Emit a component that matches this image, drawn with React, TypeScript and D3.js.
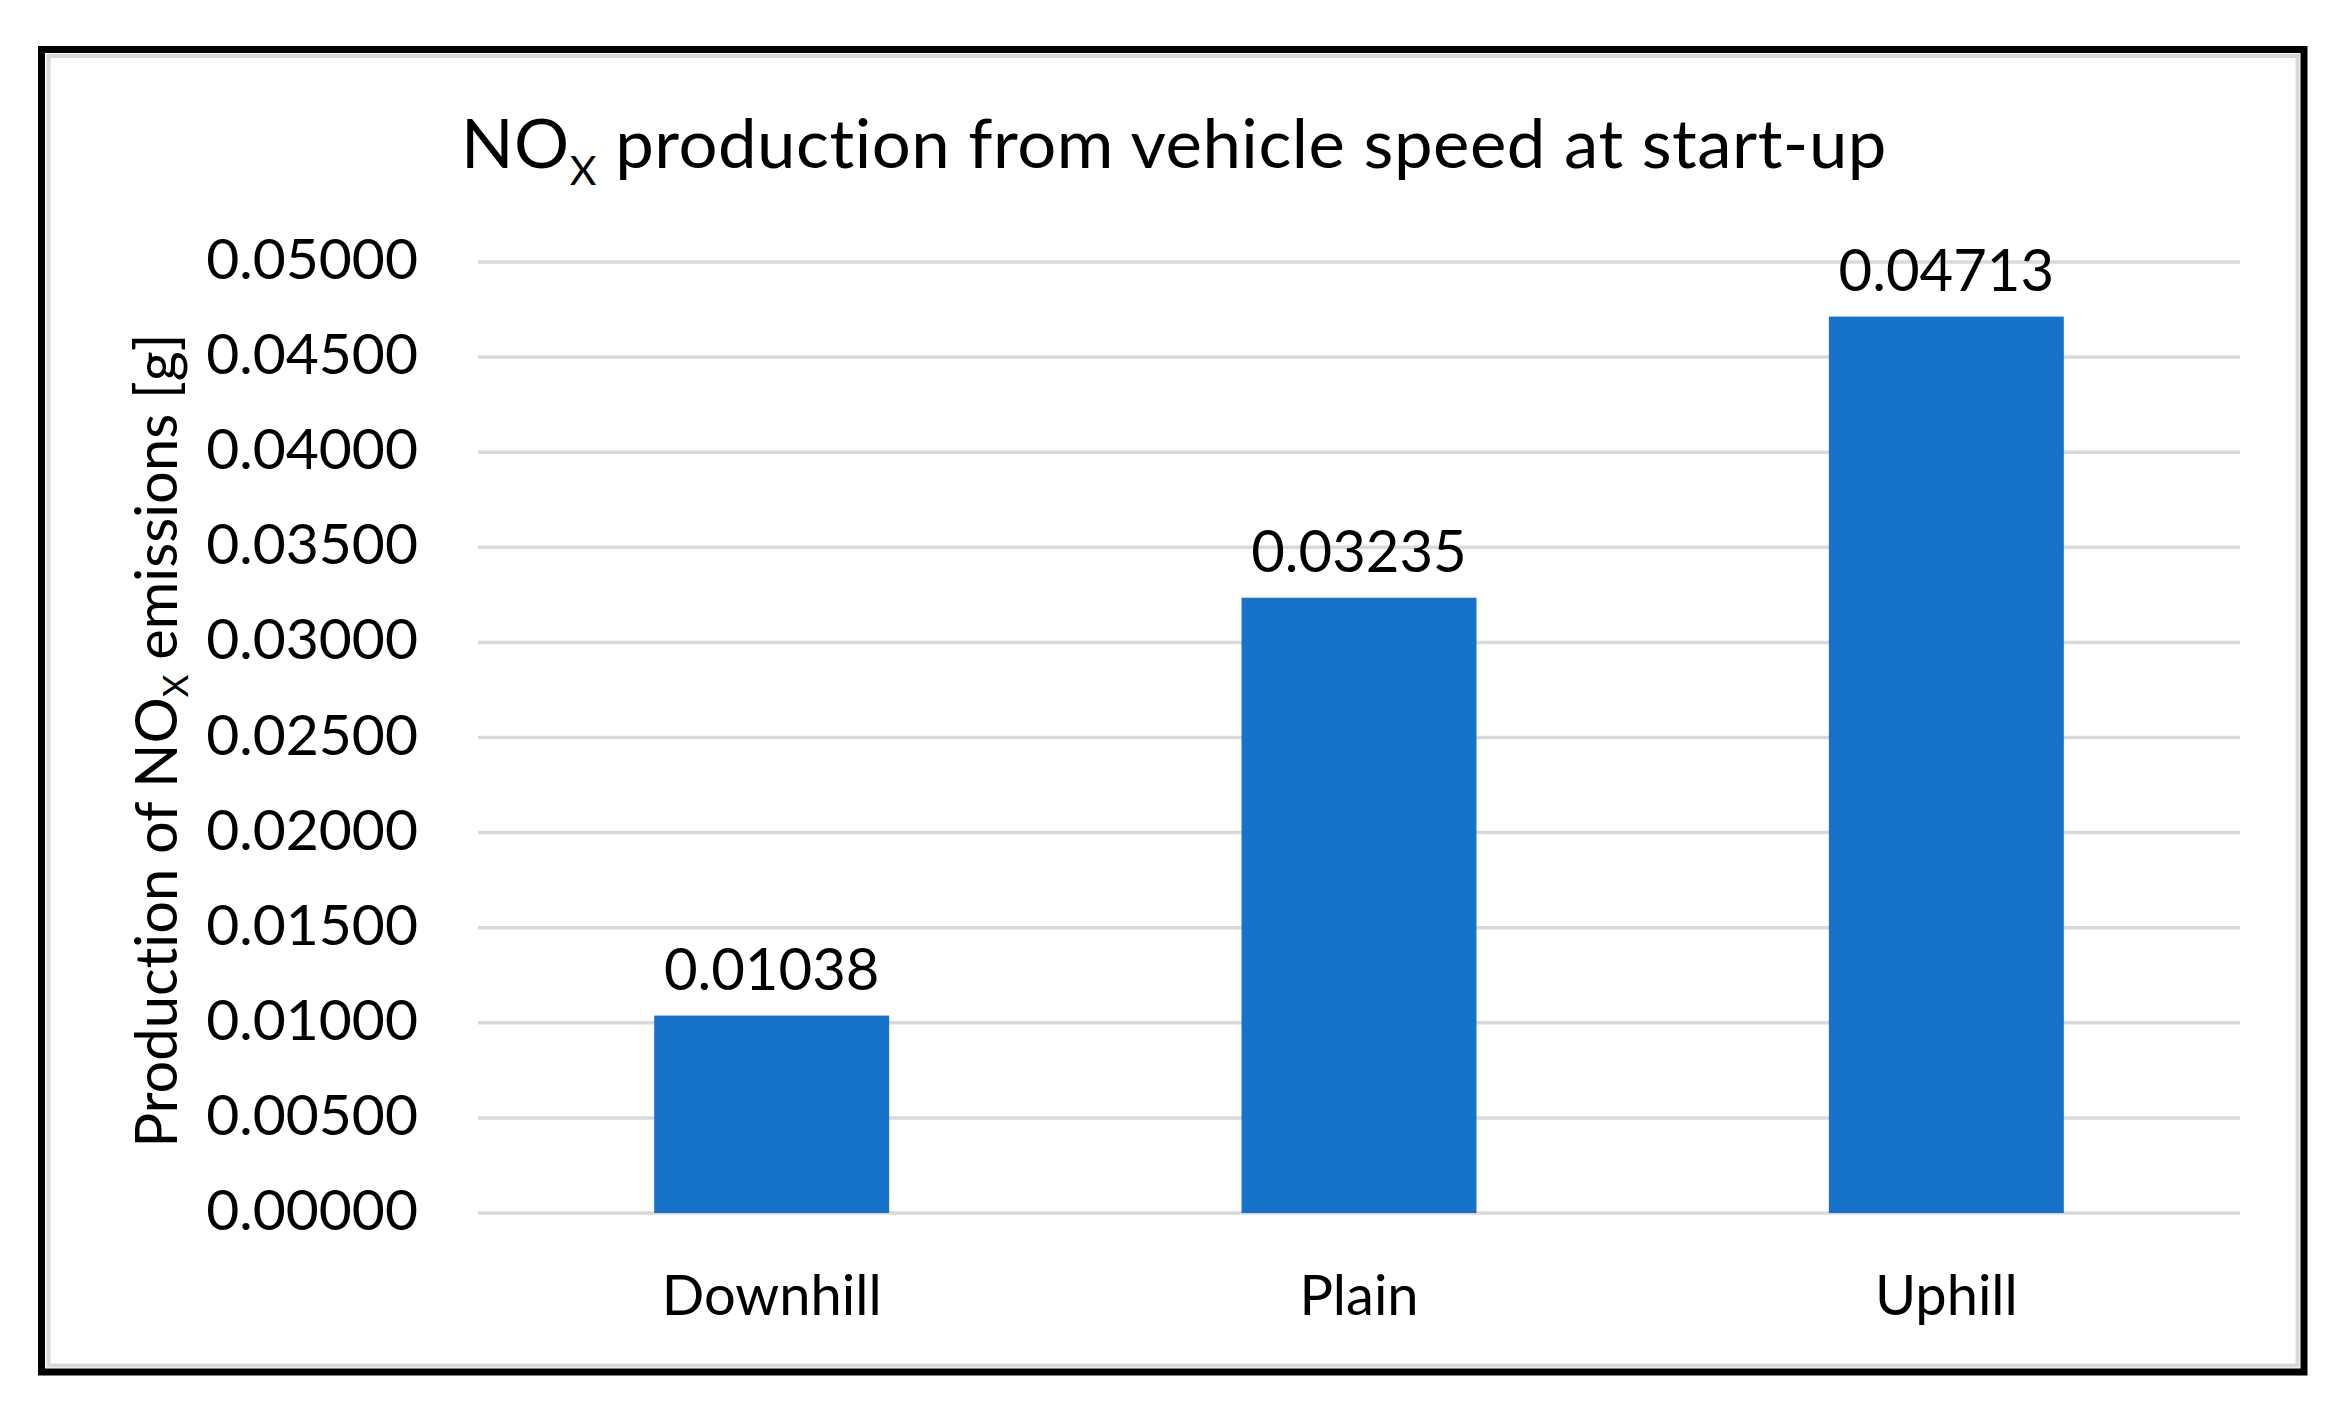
import React from "react";
import * as d3 from "d3";

const categories = ["Downhill", "Plain", "Uphill"];
const values = [0.01038, 0.03235, 0.04713];
const valueLabels = ["0.01038", "0.03235", "0.04713"];
const yTicks = [0, 0.005, 0.01, 0.015, 0.02, 0.025, 0.03, 0.035, 0.04, 0.045, 0.05];

const W = 2345;
const H = 1414;
const FONT = "Lato, 'Open Sans', sans-serif";
const BAR = "#1772C9";
const GRID = "#d9d9d9";

export default function App() {
  const plotLeft = 478;
  const plotRight = 2240;
  const plotTop = 262;
  const plotBottom = 1213;

  const x = d3
    .scaleBand<string>()
    .domain(categories)
    .range([plotLeft, plotRight])
    .paddingInner(0.6)
    .paddingOuter(0.3);
  const y = d3.scaleLinear().domain([0, 0.05]).range([plotBottom, plotTop]);
  const fmt = d3.format(".5f");

  return (
    <svg
      width={W}
      height={H}
      viewBox={`0 0 ${W} ${H}`}
      style={{
        position: "absolute",
        left: 0,
        top: 0,
        background: "#fff",
        fontVariantLigatures: "none",
        fontFeatureSettings: '"liga" 0, "clig" 0',
      }}
      fontFamily={FONT}
    >
      <rect x={0} y={0} width={W} height={H} fill="#fff" />
      {/* frame */}
      <rect x={48.5} y={56} width={2297.5 - 48.5} height={1365.5 - 56} fill="none" stroke={GRID} strokeWidth={4} />
      <rect x={41.5} y={49.5} width={2304 - 41.5} height={1372 - 49.5} fill="none" stroke="#000" strokeWidth={7} />

      {/* title */}
      <text
        x={1174}
        y={168}
        textAnchor="middle"
        fontSize={67}
        fill="#000"
        letterSpacing={0.5}
        textLength={1426}
        lengthAdjust="spacingAndGlyphs"
      >
        NO
        <tspan fontSize={40} dy={17}>X</tspan>
        <tspan dy={-17}> production from vehicle speed at start-up</tspan>
      </text>

      {/* gridlines */}
      {yTicks.map((t) => (
        <line key={t} x1={plotLeft} x2={plotRight} y1={y(t)} y2={y(t)} stroke={GRID} strokeWidth={3.5} />
      ))}

      {/* y tick labels */}
      {yTicks.map((t) => (
        <text key={"l" + t} x={418} y={y(t) + 17} textAnchor="end" fontSize={57} fill="#000">
          {fmt(t)}
        </text>
      ))}

      {/* bars */}
      {categories.map((c, i) => (
        <rect
          key={c}
          x={x(c)}
          y={y(values[i])}
          width={x.bandwidth()}
          height={y(0) - y(values[i])}
          fill={BAR}
        />
      ))}

      {/* data labels */}
      {categories.map((c, i) => (
        <text
          key={"d" + c}
          x={(x(c) as number) + x.bandwidth() / 2}
          y={y(values[i]) - 26}
          textAnchor="middle"
          fontSize={58}
          fill="#000"
        >
          {valueLabels[i]}
        </text>
      ))}

      {/* category labels */}
      {categories.map((c) => (
        <text
          key={"c" + c}
          x={(x(c) as number) + x.bandwidth() / 2}
          y={1315}
          textAnchor="middle"
          fontSize={56}
          fill="#000"
        >
          {c}
        </text>
      ))}

      {/* y axis title */}
      <text
        transform={`translate(177, ${(plotTop + plotBottom) / 2 + 3}) rotate(-90)`}
        textAnchor="middle"
        fontSize={58}
        fill="#000"
        textLength={814}
        lengthAdjust="spacingAndGlyphs"
      >
        Production of NO
        <tspan fontSize={35} dy={11}>X</tspan>
        <tspan dy={-11}> emissions [g]</tspan>
      </text>
    </svg>
  );
}
